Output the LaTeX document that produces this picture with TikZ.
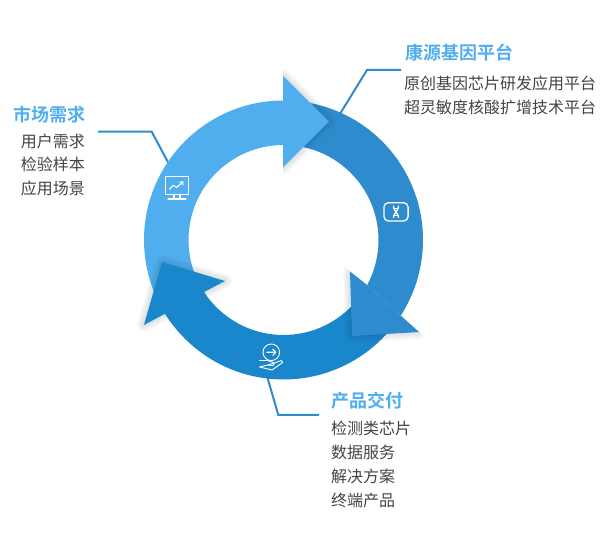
\documentclass[tikz,border=0pt]{standalone}
\usepackage{fontspec}
\usetikzlibrary{calc,arrows.meta}
\setmainfont{Noto Sans CJK SC}
\newfontfamily\cjkbold[BoldFont={Noto Sans CJK SC Bold}]{Noto Sans CJK SC Bold}
\definecolor{lightblue}{HTML}{50AEEE}
\definecolor{midblue}{HTML}{2E8BCE}
\definecolor{darkblue}{HTML}{1A86CC}
\definecolor{bodytext}{HTML}{444444}
\definecolor{shade}{HTML}{12304A}
\tikzset{
  titletext/.style={font=\cjkbold\fontsize{18}{18}\selectfont, text=lightblue, inner sep=0pt},
  bodyline/.style={font=\fontsize{16}{16}\selectfont, text=bodytext, inner sep=0pt},
  leader/.style={draw=midblue, line width=2pt, line join=miter},
  icon/.style={draw=white, line width=1.1pt, line join=round, line cap=round},
  softshade/.style={draw=shade, opacity=.03, line join=round, line width=#1},
}
\def\lightheadpath{(283,475) -- (329,429.5) -- (283,383.5) -- cycle}
\def\midheadpath{(midin) -- (350,279.5) -- (352,215) -- (419,219) -- (midout) -- cycle}
\def\darkheadpath{(darkout) -- (144,226) -- (162,289) -- (225,270) -- (darkin) -- cycle}
\begin{document}
\begin{tikzpicture}[x=1pt,y=1pt]
\useasboundingbox (0,0) rectangle (600,551);
\coordinate (c) at (283.5,311);
\coordinate (midin) at ($(c)+(-28.3:95)$);
\coordinate (midout) at ($(c)+(-32.8:139.5)$);
\coordinate (darkin) at ($(c)+(213.2:95)$);
\coordinate (darkout) at ($(c)+(211.9:139.5)$);
% leaders
\coordinate (ringA) at (339.3,436);
\coordinate (kneeA) at (367,481);
\coordinate (endA) at (401,481);
\coordinate (ringB) at (170,385);
\coordinate (kneeB) at (151.7,419.3);
\coordinate (endB) at (98,419.3);
\coordinate (ringC) at (267,175);
\coordinate (kneeC) at (278.3,136);
\coordinate (endC) at (319,136);
\draw[leader] (ringA) -- (kneeA) -- (endA);
\draw[leader] (ringB) -- (kneeB) -- (endB);
\draw[leader] (ringC) -- (kneeC) -- (endC);
% light body
\fill[lightblue] ($(c)+(90:139.5)$) arc[start angle=90,end angle=216,radius=139.5pt]
  -- ($(c)+(216:95)$) arc[start angle=216,end angle=90,radius=95pt] -- cycle;
% mid body
\fill[midblue] ($(c)+(85:139.5)$) arc[start angle=85,end angle=-32.8,radius=139.5pt]
  -- (midin) arc[start angle=-28.3,end angle=85,radius=95pt] -- cycle;
% dark arrow with its shadow
\foreach \w in {14pt,11pt,8pt,5pt,2pt}{\path[softshade=\w] \darkheadpath;}
\fill[darkblue] ($(c)+(318:139.5)$) arc[start angle=318,end angle=211.9,radius=139.5pt]
  -- (144,226) -- (162,289) -- (225,270) -- (darkin)
  arc[start angle=213.2,end angle=318,radius=95pt] -- cycle;
% light head
\begin{scope}
\clip (283,360) rectangle (360,500);
\foreach \w in {14pt,11pt,8pt,5pt,2pt}{\path[softshade=\w] \lightheadpath;}
\end{scope}
\fill[lightblue] \lightheadpath;
% mid head
\begin{scope}
\clip (300,323.3) -- (470,174.2) -- (470,100) -- (300,100) -- cycle;
\foreach \w in {14pt,11pt,8pt,5pt,2pt}{\path[softshade=\w] \midheadpath;}
\end{scope}
\fill[midblue] \midheadpath;
% monitor icon
\draw[icon] (165.6,374.3) rectangle (188.4,356.9);
\draw[icon] (174,356.9) -- (174,352.5) (180,356.9) -- (180,352.5);
\draw[icon] (168,352) -- (186,352);
\draw[icon] (169.5,361.7) -- (173.3,365.7) -- (176.7,363.7) -- (182.7,368.7);
\draw[icon] (179.6,368.9) -- (182.9,369) -- (182.9,365.8);
% DNA icon
\draw[icon, line width=1.3pt, rounded corners=4.5pt] (383.9,348.3) rectangle (408.1,330);
\draw[icon, line width=1.3pt] (393.4,345) .. controls (393.6,340) and (398.4,338) .. (398.6,333.5);
\draw[icon, line width=1.3pt] (398.6,345) .. controls (398.4,340) and (393.6,338) .. (393.4,333.5);
\draw[icon, line width=.8pt] (393.8,343) -- (398.2,343) (393.8,335.5) -- (398.2,335.5);
% hand icon
\draw[icon, line width=.9pt] (271.3,198.7) circle[radius=8.3pt];
\draw[icon, line width=1.1pt] (266.8,198.7) -- (275.8,198.7) (272.8,201.7) -- (275.8,198.7) -- (272.8,195.7);
\draw[icon, line width=.9pt] (259.5,190.5) -- (268,190.5) -- (274,188) -- (273,185.3) -- (268,186);
\draw[icon, line width=.9pt] (273.5,187.5) -- (281,190.5) -- (282.8,188.6) -- (272,181) -- (268,182) -- (259.5,184) -- cycle;
% labels
\node[titletext, anchor=west] (tA) at (405,498) {康源基因平台};
\node[bodyline, anchor=west] (a1) at (404,468) {原创基因芯片研发应用平台};
\node[bodyline, anchor=west] (a2) at (404,444) {超灵敏度核酸扩增技术平台};
\node[titletext, anchor=east] (tB) at (85.5,436) {市场需求};
\node[bodyline, anchor=east] (b1) at (85,410) {用户需求};
\node[bodyline, anchor=east] (b2) at (85,387) {检验样本};
\node[bodyline, anchor=east] (b3) at (85,363) {应用场景};
\node[titletext, anchor=west] (tC) at (331,150.5) {产品交付};
\node[bodyline, anchor=west] (c1) at (331,123) {检测类芯片};
\node[bodyline, anchor=west] (c2) at (331,99) {数据服务};
\node[bodyline, anchor=west] (c3) at (331,75) {解决方案};
\node[bodyline, anchor=west] (c4) at (331,51) {终端产品};
\end{tikzpicture}
\end{document}
